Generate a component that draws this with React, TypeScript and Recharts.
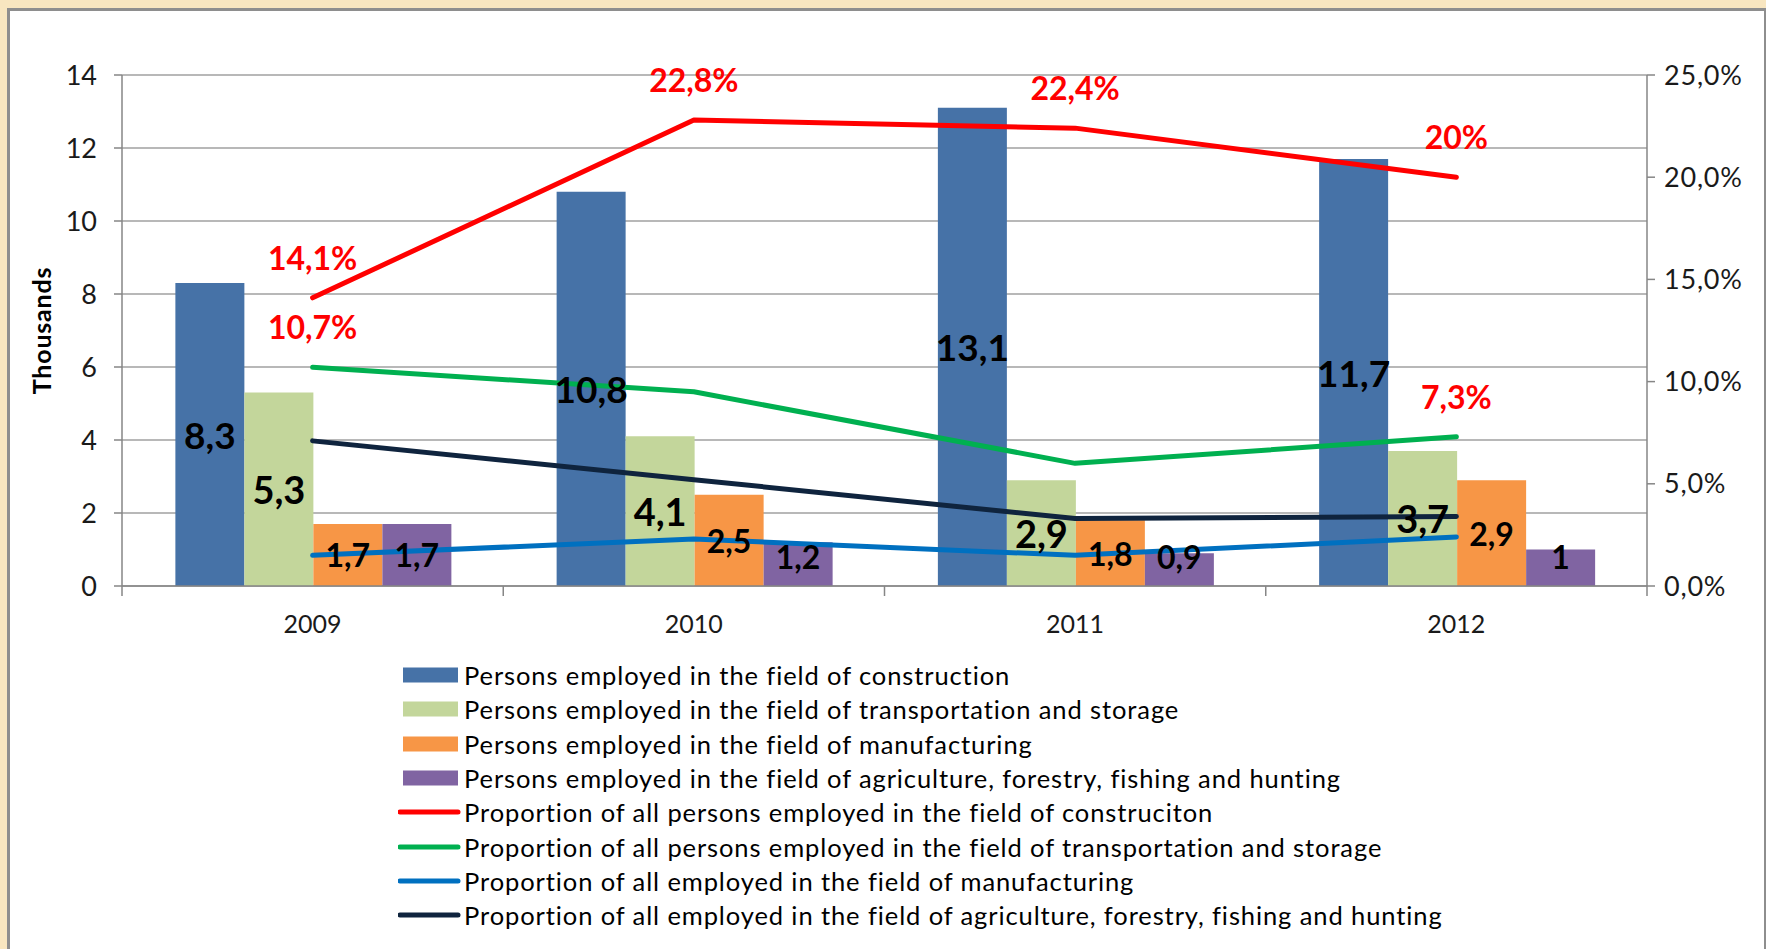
import React from "react"
import { ComposedChart, Bar, Line, XAxis, YAxis, CartesianGrid, LabelList, Legend, Label } from "recharts"

// values (thousands of persons, and shares in %)
const years = ["2009", "2010", "2011", "2012"]
const construction = [8.3, 10.8, 13.1, 11.7]
const transport = [5.3, 4.1, 2.9, 3.7]
const manufacturing = [1.7, 2.5, 1.8, 2.9]
const agriculture = [1.7, 1.2, 0.9, 1.0]

const constructionShare = [14.1, 22.8, 22.4, 20.0]
const transportShare = [10.7, 9.5, 6.0, 7.3]
const manufacturingShare = [1.5, 2.3, 1.5, 2.4]
const agricultureShare = [7.1, 5.2, 3.3, 3.4]
// only the first and last transport points carry a label
const transportLabelled = [true, false, false, true]

const leftTicks = [0, 2, 4, 6, 8, 10, 12, 14]
const rightTicks = [0, 5, 10, 15, 20, 25]

const barNames = [
  "Persons employed in the field of construction",
  "Persons employed in the field of transportation and storage",
  "Persons employed in the field of manufacturing",
  "Persons employed in the field of agriculture, forestry, fishing and hunting",
]
const lineNames = [
  "Proportion of all persons employed in the field of construciton",
  "Proportion of all persons employed in the field of transportation and storage",
  "Proportion of all employed in the field of manufacturing",
  "Proportion of all employed in the field of agriculture, forestry, fishing and hunting",
]
const barColors = ["#4672A7", "#C3D69B", "#F79646", "#8064A2"]
const lineColors = ["#FF0000", "#00B050", "#0070C0", "#0F243E"]

const comma = (v: number) => String(v).replace(".", ",")
const pct = (v: number) => comma(v) + "%"

const data = years.map((year, i) => ({
  year,
  construction: construction[i],
  transport: transport[i],
  manufacturing: manufacturing[i],
  agriculture: agriculture[i],
  constructionShare: constructionShare[i],
  constructionShareLabel: pct(constructionShare[i]),
  transportShare: transportShare[i],
  transportShareLabel: transportLabelled[i] ? pct(transportShare[i]) : null,
  manufacturingShare: manufacturingShare[i],
  agricultureShare: agricultureShare[i],
}))

const W = 1766
const H = 949
const FONT = "Lato, 'Open Sans', sans-serif"
const AXIS = "#868686"
const GRID = "#A0A0A0"
const PLOT_LEFT = 122
const PLOT_RIGHT = 1647
const BAND = (PLOT_RIGHT - PLOT_LEFT) / years.length

const XTick = (props: any) => {
  const { x, y, payload, index } = props
  return (
    <g>
      <line x1={x - BAND / 2} x2={x - BAND / 2} y1={y} y2={y + 10} stroke={AXIS} strokeWidth={1.5} />
      {index === years.length - 1 && (
        <line x1={x + BAND / 2} x2={x + BAND / 2} y1={y} y2={y + 10} stroke={AXIS} strokeWidth={1.5} />
      )}
      <text x={x} y={y + 37} textAnchor="middle" dominantBaseline="central" fontSize={25} fontFamily={FONT} fill="#1a1a1a">
        {payload.value}
      </text>
    </g>
  )
}

// bar value labels sit in the middle of the bar, but never lower than just above the axis
const barLabel = (size: number) => (props: any) => {
  const vb = props.viewBox || props
  const cx = vb.x + vb.width / 2
  const cy = Math.min(vb.y + vb.height / 2, vb.y + vb.height - 30)
  return (
    <text x={cx} y={cy} textAnchor="middle" dominantBaseline="central" fontSize={size} fontWeight="bold" fontFamily={FONT} fill="#000">
      {comma(props.value)}
    </text>
  )
}

const thousandsLabel = (props: any) => {
  const vb = props.viewBox || { x: 0, y: 75, width: 122, height: 511 }
  const x = vb.x + 41
  const y = vb.y + vb.height / 2
  return (
    <text x={x} y={y} transform={`rotate(-90, ${x}, ${y})`} textAnchor="middle" dominantBaseline="central" fontSize={25} letterSpacing={0.8} fontWeight="bold" fontFamily={FONT} fill="#000">
      Thousands
    </text>
  )
}

const order = [...barNames, ...lineNames]

const renderLegend = (props: any) => {
  const items = [...(props.payload || [])].sort((a: any, b: any) => order.indexOf(a.value) - order.indexOf(b.value))
  return (
    <div style={{ fontFamily: FONT, fontSize: 25.5, letterSpacing: 0.9, color: "#000" }}>
      {items.map((item: any) => (
        <div key={item.value} style={{ display: "flex", alignItems: "center", height: 34.3, whiteSpace: "nowrap" }}>
          <svg width={66} height={34} style={{ flex: "none" }}>
            {item.type === "line" ? (
              <line x1={2} x2={60} y1={17} y2={17} stroke={item.color} strokeWidth={5} strokeLinecap="round" />
            ) : (
              <rect x={5} y={9.5} width={55} height={15} fill={item.color} />
            )}
          </svg>
          <span>{item.value}</span>
        </div>
      ))}
    </div>
  )
}

const lineProps = {
  yAxisId: "right",
  type: "linear" as const,
  strokeWidth: 5,
  strokeLinecap: "round" as const,
  strokeLinejoin: "round" as const,
  dot: false,
  activeDot: false,
  isAnimationActive: false,
}

export default function App() {
  return (
    <div style={{ position: "absolute", left: 0, top: 0, width: W, height: H, background: "#F8E6C0", overflow: "hidden" }}>
      <div
        style={{
          position: "absolute",
          left: 7,
          top: 8,
          width: 1754,
          height: 960,
          background: "#fff",
          borderTop: "3px solid #8E8E8E",
          borderLeft: "3px solid #8E8E8E",
          borderRight: "3px solid #8E8E8E",
        }}
      />
      <div style={{ position: "absolute", left: 0, top: 0 }}>
        <ComposedChart
          width={W}
          height={H}
          data={data}
          margin={{ top: 75, right: 0, bottom: 323, left: 0 }}
          barCategoryGap="14%"
          barGap={0}
          style={{ fontFamily: FONT }}
        >
          <CartesianGrid yAxisId="left" vertical={false} stroke={GRID} strokeWidth={1.5} />
          <XAxis
            dataKey="year"
            height={40}
            interval={0}
            tickLine={false}
            tickSize={0}
            tickMargin={0}
            axisLine={{ stroke: AXIS, strokeWidth: 1.5 }}
            tick={<XTick />}
          />
          <YAxis
            yAxisId="left"
            width={122}
            domain={[0, 14]}
            ticks={leftTicks}
            interval={0}
            tickSize={8}
            tickMargin={17}
            axisLine={{ stroke: AXIS, strokeWidth: 1.5 }}
            tickLine={{ stroke: AXIS, strokeWidth: 1.5 }}
            tick={{ fontSize: 27, fontFamily: FONT, fill: "#1a1a1a" }}
          >
            <Label content={thousandsLabel} />
          </YAxis>
          <YAxis
            yAxisId="right"
            orientation="right"
            width={119}
            domain={[0, 25]}
            ticks={rightTicks}
            interval={0}
            tickSize={8}
            tickMargin={9}
            tickFormatter={(v: number) => v.toFixed(1).replace(".", ",") + "%"}
            axisLine={{ stroke: AXIS, strokeWidth: 1.5 }}
            tickLine={{ stroke: AXIS, strokeWidth: 1.5 }}
            tick={{ fontSize: 27, letterSpacing: 0.8, fontFamily: FONT, fill: "#1a1a1a" }}
          />
          <Bar yAxisId="left" dataKey="construction" name={barNames[0]} fill={barColors[0]} isAnimationActive={false}>
            <LabelList dataKey="construction" content={barLabel(37)} />
          </Bar>
          <Bar yAxisId="left" dataKey="transport" name={barNames[1]} fill={barColors[1]} isAnimationActive={false}>
            <LabelList dataKey="transport" content={barLabel(38)} />
          </Bar>
          <Bar yAxisId="left" dataKey="manufacturing" name={barNames[2]} fill={barColors[2]} isAnimationActive={false}>
            <LabelList dataKey="manufacturing" content={barLabel(32)} />
          </Bar>
          <Bar yAxisId="left" dataKey="agriculture" name={barNames[3]} fill={barColors[3]} isAnimationActive={false}>
            <LabelList dataKey="agriculture" content={barLabel(32)} />
          </Bar>
          <Line {...lineProps} dataKey="constructionShare" name={lineNames[0]} stroke={lineColors[0]}>
            <LabelList dataKey="constructionShareLabel" position="top" offset={28} fill="#FF0000" fontSize={32} fontWeight="bold" fontFamily={FONT} />
          </Line>
          <Line {...lineProps} dataKey="transportShare" name={lineNames[1]} stroke={lineColors[1]}>
            <LabelList dataKey="transportShareLabel" position="top" offset={28} fill="#FF0000" fontSize={32} fontWeight="bold" fontFamily={FONT} />
          </Line>
          <Line {...lineProps} dataKey="manufacturingShare" name={lineNames[2]} stroke={lineColors[2]} />
          <Line {...lineProps} dataKey="agricultureShare" name={lineNames[3]} stroke={lineColors[3]} />
          <Legend
            layout="vertical"
            align="center"
            verticalAlign="middle"
            width={1250}
            wrapperStyle={{ top: 658, left: 398, width: 1250 }}
            content={renderLegend}
          />
        </ComposedChart>
      </div>
    </div>
  )
}
